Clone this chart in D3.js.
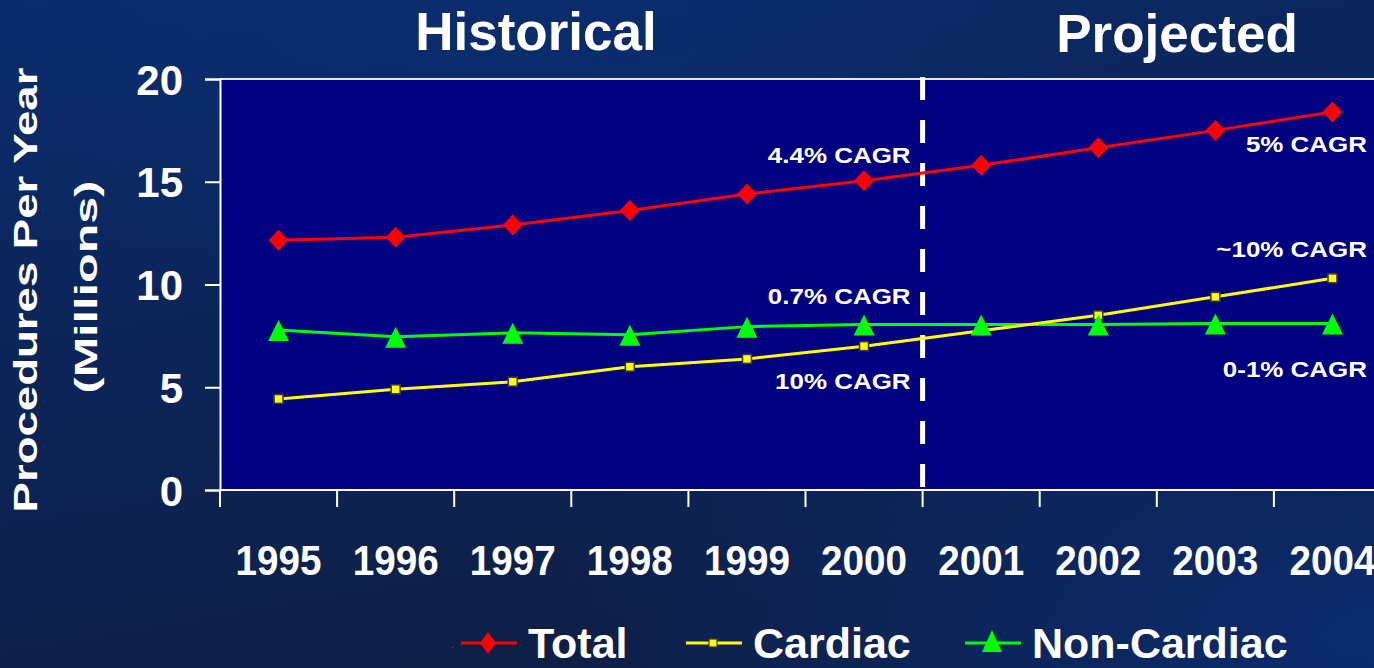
<!DOCTYPE html>
<html>
<head>
<meta charset="utf-8">
<script src="https://cdn.jsdelivr.net/npm/d3@7"></script>
<style>
  html, body { margin: 0; padding: 0; background: #0d2152; }
  svg { display: block; }
  text { font-family: "Liberation Sans", Arial, sans-serif; font-weight: bold; fill: #ffffff; }
</style>
</head>
<body>
<svg id="chart" width="1374" height="668"></svg>
<script>
// ---- data ----
const years = ["1995", "1996", "1997", "1998", "1999", "2000", "2001", "2002", "2003", "2004"];
const total = [12.15, 12.3, 12.9, 13.6, 14.4, 15.05, 15.8, 16.65, 17.5, 18.4];
const cardiac = [4.43, 4.9, 5.27, 6.0, 6.38, 7.0, 7.75, 8.5, 9.4, 10.3];
const nonCardiac = [7.78, 7.46, 7.65, 7.55, 7.95, 8.05, 8.05, 8.05, 8.1, 8.1];
const yTicks = [0, 5, 10, 15, 20];
const seriesNames = ["Total", "Cardiac", "Non-Cardiac"];
const historicalLabels = ["4.4% CAGR", "0.7% CAGR", "10% CAGR"];
const historicalLabelValues = [15.9, 9.05, 4.9];
const projectedLabels = ["5% CAGR", "~10% CAGR", "0-1% CAGR"];
const projectedLabelValues = [16.45, 11.35, 5.5];
const periodTitles = ["Historical", "Projected"];

// ---- layout ----
const svg = d3.select("#chart");
const W = 1374, H = 668;
const plotLeft = 220, plotTop = 79, plotBottom = 490;
const bandW = 117.1;

const defs = svg.append("defs");
const bg = defs.append("linearGradient").attr("id", "bg")
  .attr("x1", "0").attr("y1", "0").attr("x2", "0.35").attr("y2", "1");
bg.append("stop").attr("offset", "0").attr("stop-color", "#0a2b6a");
bg.append("stop").attr("offset", "0.55").attr("stop-color", "#0c2456");
bg.append("stop").attr("offset", "1").attr("stop-color", "#0e1f46");
const glow = defs.append("radialGradient").attr("id", "glow")
  .attr("cx", "1").attr("cy", "0.95").attr("r", "0.6");
glow.append("stop").attr("offset", "0").attr("stop-color", "#0b2d72").attr("stop-opacity", 0.9);
glow.append("stop").attr("offset", "1").attr("stop-color", "#0b2d72").attr("stop-opacity", 0);
const glow2 = defs.append("radialGradient").attr("id", "glow2")
  .attr("cx", "0.35").attr("cy", "0.0").attr("r", "0.5");
glow2.append("stop").attr("offset", "0").attr("stop-color", "#0b2e70").attr("stop-opacity", 0.8);
glow2.append("stop").attr("offset", "1").attr("stop-color", "#0b2e70").attr("stop-opacity", 0);

svg.append("rect").attr("width", W).attr("height", H).attr("fill", "url(#bg)");
svg.append("rect").attr("width", W).attr("height", H).attr("fill", "url(#glow)");
svg.append("rect").attr("width", W).attr("height", H).attr("fill", "url(#glow2)");

const x = d3.scaleBand().domain(years).range([plotLeft, plotLeft + bandW * years.length]).padding(0);
const y = d3.scaleLinear().domain([0, 20]).range([plotBottom, plotTop]);
const cx = d => x(d) + x.bandwidth() / 2;

// helper: stretch a text horizontally (in its own frame) to a target length
function stretchText(sel, baseTransform, target, anchor) {
  const len = sel.node().getComputedTextLength();
  sel.attr("transform", `${baseTransform} scale(${target / len},1)`).attr("text-anchor", anchor);
}

// plot area
svg.append("rect").attr("x", plotLeft).attr("y", plotTop)
  .attr("width", W - plotLeft + 10).attr("height", plotBottom - plotTop).attr("fill", "#000080");
// top border
svg.append("line").attr("x1", plotLeft).attr("x2", W).attr("y1", plotTop).attr("y2", plotTop)
  .attr("stroke", "#e8e8f0").attr("stroke-width", 2);

// y axis
const yAxis = svg.append("g").attr("transform", `translate(${plotLeft},0)`)
  .call(d3.axisLeft(y).tickValues(yTicks).tickSize(15).tickPadding(22).tickFormat(d3.format("d")));
yAxis.select(".domain").attr("stroke", "#ffffff").attr("stroke-width", 2);
yAxis.selectAll(".tick line").attr("stroke", "#ffffff").attr("stroke-width", 2);
yAxis.selectAll(".tick text").attr("fill", "#ffffff").attr("font-size", 42)
  .attr("font-family", "Liberation Sans, Arial, sans-serif").attr("font-weight", "bold")
  .attr("dy", "0.36em");

// x axis (ticks at band boundaries)
const boundaries = d3.range(years.length + 1).map(i => plotLeft + i * bandW);
const xAxisG = svg.append("g");
xAxisG.append("line").attr("x1", plotLeft).attr("x2", W).attr("y1", plotBottom).attr("y2", plotBottom)
  .attr("stroke", "#ffffff").attr("stroke-width", 2);
xAxisG.selectAll("line.tk").data(boundaries).join("line").attr("class", "tk")
  .attr("x1", d => d).attr("x2", d => d).attr("y1", plotBottom).attr("y2", plotBottom + 17)
  .attr("stroke", "#ffffff").attr("stroke-width", 2);
xAxisG.selectAll("text").data(years).join("text")
  .attr("font-size", 42).text(d => d)
  .each(function (d) { stretchText(d3.select(this), `translate(${cx(d)},575)`, 86, "middle"); });

// divider between historical and projected
const divX = x("2001");
svg.append("line").attr("x1", divX).attr("x2", divX).attr("y1", plotTop - 2).attr("y2", plotBottom - 2)
  .attr("stroke", "#ffffff").attr("stroke-width", 5).attr("stroke-dasharray", "23,20");

// lines
const line = d3.line().x((d, i) => cx(years[i])).y(d => y(d));
svg.append("path").datum(total).attr("d", line).attr("fill", "none").attr("stroke", "#ff0000").attr("stroke-width", 3);
svg.append("path").datum(nonCardiac).attr("d", line).attr("fill", "none").attr("stroke", "#00ff00").attr("stroke-width", 3);
svg.append("path").datum(cardiac).attr("d", line).attr("fill", "none").attr("stroke", "#ffff00").attr("stroke-width", 3);

const diamond = "M0,-10.5L10,0L0,10.5L-10,0Z";
const tri = "M0,-10L10.5,11L-10.5,11Z";

svg.selectAll("path.dia").data(total).join("path").attr("class", "dia")
  .attr("d", diamond).attr("fill", "#ff0000")
  .attr("transform", (d, i) => `translate(${cx(years[i])},${y(d)})`);
svg.selectAll("rect.sq").data(cardiac).join("rect").attr("class", "sq")
  .attr("x", (d, i) => cx(years[i]) - 4.5).attr("y", d => y(d) - 4.5)
  .attr("width", 9).attr("height", 9).attr("fill", "#ffff00")
  .attr("stroke", "#3a3a30").attr("stroke-width", 1.6);
svg.selectAll("path.tri").data(nonCardiac).join("path").attr("class", "tri")
  .attr("d", tri).attr("fill", "#00ff00")
  .attr("transform", (d, i) => `translate(${cx(years[i])},${y(d)})`);

// CAGR labels
function cagr(labels, values, xEnd) {
  labels.forEach((t, i) => {
    svg.append("text")
      .attr("transform", `translate(${xEnd},${y(values[i])}) scale(1.18,1)`)
      .attr("text-anchor", "end").attr("font-size", 22).text(t);
  });
}
cagr(historicalLabels, historicalLabelValues, divX - 12);
cagr(projectedLabels, projectedLabelValues, W - 7);

// period titles
svg.append("text").attr("x", 536).attr("y", 50).attr("text-anchor", "middle")
  .attr("font-size", 53).text(periodTitles[0]);
svg.append("text").attr("x", 1177).attr("y", 52).attr("text-anchor", "middle")
  .attr("font-size", 53).text(periodTitles[1]);

// y axis title
const t1 = svg.append("text").attr("font-size", 33).text("Procedures Per Year");
stretchText(t1, "translate(37,290) rotate(-90)", 445, "middle");
const t2 = svg.append("text").attr("font-size", 31).text("(Millions)");
stretchText(t2, "translate(97,287) rotate(-90)", 213, "middle");

// legend
const legendX = [461, 686, 965];
const legendColors = ["#ff0000", "#ffff00", "#00ff00"];
const lg = svg.append("g");
seriesNames.forEach((name, i) => {
  const x0 = legendX[i], ly = 643;
  lg.append("line").attr("x1", x0).attr("x2", x0 + 56).attr("y1", ly).attr("y2", ly)
    .attr("stroke", legendColors[i]).attr("stroke-width", 3);
  const mx = x0 + 27;
  if (i === 0) {
    lg.append("path").attr("d", "M0,-11L8,0L0,11L-8,0Z").attr("fill", legendColors[i])
      .attr("transform", `translate(${mx},${ly})`);
  } else if (i === 1) {
    lg.append("rect").attr("x", mx - 4).attr("y", ly - 4).attr("width", 8).attr("height", 8)
      .attr("fill", legendColors[i]).attr("stroke", "#3a3a30").attr("stroke-width", 1.2);
  } else {
    lg.append("path").attr("d", "M0,-11L10,11L-10,11Z").attr("fill", legendColors[i])
      .attr("transform", `translate(${mx},${ly - 2})`);
  }
  lg.append("text").attr("x", x0 + 67).attr("y", 658).attr("font-size", 43).text(name);
});
</script>
</body>
</html>
